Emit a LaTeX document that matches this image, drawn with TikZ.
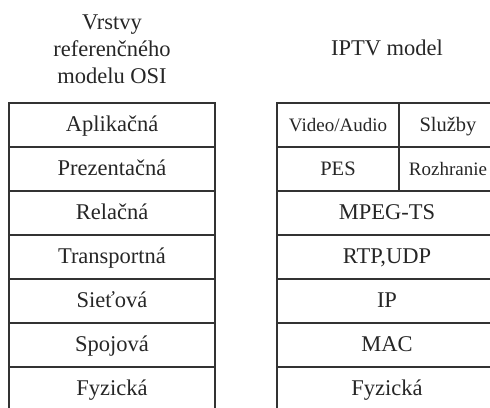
\documentclass[tikz,border=0pt]{standalone}
\usepackage{fontspec}
\setmainfont{Liberation Serif}
\begin{document}
\begin{tikzpicture}[x=1pt,y=-1pt,
  cell/.style={draw=black!80, line width=1.4pt, inner sep=0pt,
    minimum height=44pt, text height=15pt, text depth=2pt,
    text=black!85, font=\fontsize{22.5}{27}\selectfont},
  osicell/.style={cell, minimum width=206pt},
  widecell/.style={cell, minimum width=220pt},
  leftcell/.style={cell, minimum width=122pt},
  rightcell/.style={cell, minimum width=98pt},
  title/.style={anchor=base, inner sep=0pt, text=black!85,
    font=\fontsize{22.5}{27}\selectfont}]
\useasboundingbox (0,0) rectangle (490,407);

% column headings
\node[title] (t1) at (112,29.5) {Vrstvy};
\node[title] (t2) at (112,56.5) {referenčného};
\node[title] (t3) at (112,83.5) {modelu OSI};
\node[title] (t4) at (387,55) {IPTV model};

% OSI reference model layers
\node[osicell] (o1) at (112,125) {Aplikačná};
\node[osicell] (o2) at (112,169) {Prezentačná};
\node[osicell] (o3) at (112,213) {Relačná};
\node[osicell] (o4) at (112,257) {Transportná};
\node[osicell] (o5) at (112,301) {Sieťová};
\node[osicell] (o6) at (112,345) {Spojová};
\node[osicell] (o7) at (112,389) {Fyzická};

% IPTV model layers
\node[leftcell, font=\fontsize{19}{23}\selectfont] (va) at (338,125) {Video/Audio};
\node[rightcell, font=\fontsize{20.5}{25}\selectfont] (sl) at (448,125) {Služby};
\node[leftcell, font=\fontsize{20.5}{25}\selectfont] (pes) at (338,169) {PES};
\node[rightcell, font=\fontsize{19}{23}\selectfont] (ro) at (448,169) {Rozhranie};
\node[widecell] (ts) at (387,213) {MPEG-TS};
\node[widecell] (rtp) at (387,257) {RTP,UDP};
\node[widecell] (ip) at (387,301) {IP};
\node[widecell] (mac) at (387,345) {MAC};
\node[widecell] (fy) at (387,389) {Fyzická};
\end{tikzpicture}
\end{document}
